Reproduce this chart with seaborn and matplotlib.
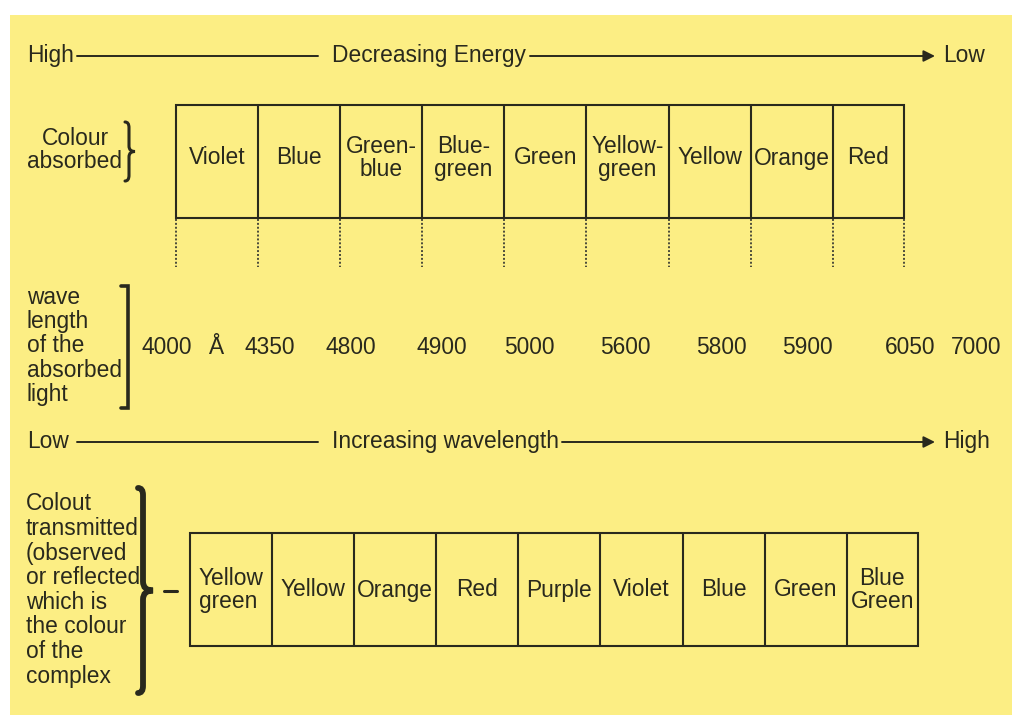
import numpy as np
import matplotlib.pyplot as plt
from matplotlib.path import Path
from matplotlib.patches import PathPatch, Rectangle
import seaborn as sns

# colour absorbed (top row), wavelength marks, colour transmitted (bottom row)
absorbed = ["Violet", "Blue", "Green-\nblue", "Blue-\ngreen", "Green",
            "Yellow-\ngreen", "Yellow", "Orange", "Red"]
wavelengths = ["4000", "4350", "4800", "4900", "5000", "5600", "5800",
               "5900", "6050", "7000"]
transmitted = ["Yellow\ngreen", "Yellow", "Orange", "Red", "Purple",
               "Violet", "Blue", "Green", "Blue\nGreen"]

sns.set_theme(style="white")
plt.rcParams['font.family'] = ['Liberation Sans', 'DejaVu Sans']

W, H = 1018, 717
fig = plt.figure(figsize=(W / 100, H / 100), dpi=100)
ax = fig.add_axes([0, 0, 1, 1])
ax.set_xlim(0, W)
ax.set_ylim(H, 0)
ax.axis('off')

ink = '#29291d'
fs = 16.4

# yellow panel
ax.add_patch(Rectangle((10, 15), 1002, 700, color='#fcee84', lw=0))


def brace(x, y0, y1, d_end, d_tip, lw):
    ym = (y0 + y1) / 2
    q = d_end * 1.4
    qt = d_tip * 0.9
    verts = [(x - d_end, y0), (x, y0), (x, y0 + q), (x, ym - qt), (x, ym),
             (x + d_tip, ym), (x, ym), (x, ym + qt), (x, y1 - q), (x, y1),
             (x - d_end, y1)]
    codes = [Path.MOVETO, Path.CURVE3, Path.CURVE3, Path.LINETO,
             Path.CURVE3, Path.CURVE3, Path.CURVE3, Path.CURVE3,
             Path.LINETO, Path.CURVE3, Path.CURVE3]
    ax.add_patch(PathPatch(Path(verts, codes), fill=False, ec=ink, lw=lw,
                           capstyle='round'))


def arrow_row(y, left, mid, right, mid_x, line1, line2):
    ax.text(27, y + 6, left, fontsize=fs, color=ink, va='baseline')
    ax.plot(line1, [y, y], color=ink, lw=1.4)
    ax.text(mid_x, y + 6, mid, fontsize=fs, color=ink, va='baseline')
    ax.annotate('', xy=(line2[1], y), xytext=(line2[0], y),
                arrowprops=dict(arrowstyle='-|>', color=ink, lw=1.4,
                                mutation_scale=17, shrinkA=0, shrinkB=0))
    ax.text(943, y + 6, right, fontsize=fs, color=ink, va='baseline')


def box_row(labels, x0, step, last_w, y0, y1, ty):
    edges = x0 + step * np.arange(len(labels))
    widths = np.full(len(labels), step)
    widths[-1] = last_w
    right = edges[-1] + last_w
    ax.add_patch(Rectangle((x0, y0), right - x0, y1 - y0, fill=False,
                           ec=ink, lw=1.5))
    ax.vlines(edges[1:], y0, y1, color=ink, lw=1.5)
    for lab, e, w in zip(labels, edges, widths):
        align = 'left' if lab.startswith('Yellow\n') else 'center'
        ax.text(e + w / 2, ty, lab, fontsize=fs, color=ink, ha='center',
                va='center', multialignment=align, linespacing=1.05)
    return np.append(edges, right)


# top: energy arrow
arrow_row(56, 'High', 'Decreasing Energy', 'Low', 332, [77, 318], [530, 935])

# colour absorbed
ax.text(75, 150, 'Colour\nabsorbed', fontsize=fs, color=ink, ha='center',
        va='center', linespacing=1.05)
brace(129, 122, 181, 4, 6, 2.2)
top_edges = box_row(absorbed, 176, 82.1, 71, 105, 218, 158)
ax.vlines(top_edges, 219, 267, color='#4a4a3a', lw=1.4,
          linestyles=(0, (1, 1)))

# wavelength of absorbed light
ax.text(27, 346, 'wave\nlength\nof the\nabsorbed\nlight', fontsize=fs,
        color=ink, ha='left', va='center', linespacing=1.08)
ax.plot([121, 128, 128, 121], [286, 286, 408, 408], color=ink, lw=2.6,
        solid_joinstyle='miter')
wl_x = [167, 270, 351, 442, 529, 625, 721, 807, 910, 976]
for lab, x in zip(wavelengths, wl_x):
    ax.text(x, 354, lab, fontsize=fs, color=ink, ha='center', va='baseline')
ax.text(216, 354, 'Å', fontsize=fs, color=ink, ha='center', va='baseline')

# wavelength arrow
arrow_row(442, 'Low', 'Increasing wavelength', 'High', 332, [77, 318],
          [562, 935])

# colour transmitted
ax.text(26, 590, 'Colout\ntransmitted\n(observed\nor reflected\nwhich is\n'
        'the colour\nof the\ncomplex', fontsize=fs, color=ink, ha='left',
        va='center', linespacing=1.09)
brace(143, 488, 693, 5, 10, 4.2)
ax.plot([164, 177], [591, 591], color=ink, lw=2.2)
box_row(transmitted, 190, 82.1, 71, 533, 646, 590)

fig.savefig('out.png', dpi=100)
